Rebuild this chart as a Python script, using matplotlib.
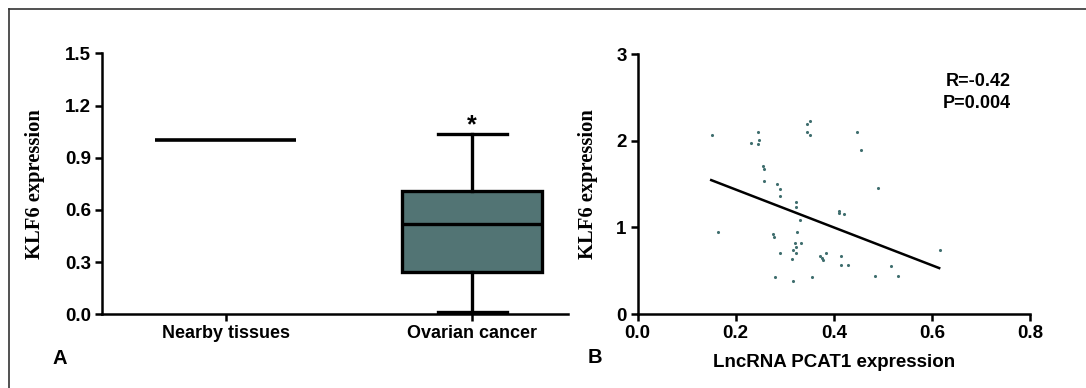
import numpy as np
import matplotlib
matplotlib.use('Agg')
import matplotlib.pyplot as plt
from matplotlib.lines import Line2D

# panel A: box plot values
groups = ['Nearby tissues', 'Ovarian cancer']
nearby_level = 1.0
ovarian_stats = dict(whislo=0.015, q1=0.241, med=0.517, q3=0.709, whishi=1.038)
star_y = 1.088

# panel B: scatter + regression
pcat_x = [0.151, 0.246, 0.248, 0.232, 0.246, 0.345, 0.352, 0.345, 0.352, 0.448,
          0.455, 0.256, 0.258, 0.257, 0.284, 0.290, 0.290, 0.490, 0.322, 0.322,
          0.410, 0.410, 0.420, 0.331, 0.164, 0.324, 0.276, 0.278, 0.321, 0.333,
          0.322, 0.317, 0.322, 0.290, 0.314, 0.371, 0.375, 0.378, 0.385, 0.415,
          0.415, 0.430, 0.280, 0.316, 0.355, 0.485, 0.517, 0.532, 0.616]
klf6_y = [2.066, 2.104, 2.005, 1.974, 1.959, 2.192, 2.227, 2.097, 2.062, 2.100,
          1.893, 1.708, 1.674, 1.536, 1.505, 1.440, 1.363, 1.459, 1.294, 1.240,
          1.190, 1.163, 1.155, 1.086, 0.952, 0.952, 0.922, 0.891, 0.825, 0.825,
          0.772, 0.737, 0.703, 0.706, 0.634, 0.672, 0.645, 0.622, 0.706, 0.668,
          0.571, 0.571, 0.426, 0.380, 0.426, 0.433, 0.556, 0.433, 0.733]
fit_x = [0.15, 0.615]
fit_y = [1.545, 0.53]
stat_text = 'R=-0.42\nP=0.004'

sans = 'Liberation Sans'
serif = 'Liberation Serif'
lw = 1.8

fig = plt.figure(figsize=(10.86, 3.88), dpi=100)

# outer frame (top and left edges only visible)
fig.add_artist(Line2D([0.0083, 1.0], [0.977, 0.977], transform=fig.transFigure, color='#333333', lw=1.2))
fig.add_artist(Line2D([0.0083, 0.0083], [0.0, 0.977], transform=fig.transFigure, color='#333333', lw=1.2))


def style_axes(ax):
    for s in ['top', 'right']:
        ax.spines[s].set_visible(False)
    for s in ['left', 'bottom']:
        ax.spines[s].set_linewidth(lw)
    ax.tick_params(direction='out', length=5, width=lw, pad=3)


def bold_ticks(labels, size):
    for lab in labels:
        lab.set_fontfamily(sans)
        lab.set_fontweight('bold')
        lab.set_fontsize(size)


# ---- A ----
ax1 = fig.add_axes([0.0942, 0.19, 0.4291, 0.6726])
style_axes(ax1)
ax1.plot([-0.285, 0.285], [nearby_level, nearby_level], color='black', lw=2.6, solid_capstyle='butt')
ovarian_stats['fliers'] = []
ax1.bxp([ovarian_stats], positions=[1], widths=0.57, patch_artist=True,
        boxprops=dict(facecolor='#527474', edgecolor='black', linewidth=2.4),
        medianprops=dict(color='black', linewidth=2.4),
        whiskerprops=dict(color='black', linewidth=2.4),
        capprops=dict(color='black', linewidth=2.4), capwidths=0.28)
ax1.text(1, star_y, '*', ha='center', va='center', fontsize=18, fontweight='bold', family=sans)
ax1.set_xlim(-0.5, 1.39)
ax1.set_ylim(0, 1.5)
ax1.set_yticks([0.0, 0.3, 0.6, 0.9, 1.2, 1.5])
ax1.set_yticklabels(['%.1f' % v for v in [0.0, 0.3, 0.6, 0.9, 1.2, 1.5]])
ax1.set_xticks([0, 1])
ax1.set_xticklabels(groups)
bold_ticks(ax1.get_yticklabels(), 13.5)
bold_ticks(ax1.get_xticklabels(), 13)
ax1.set_ylabel('KLF6 expression', family=serif, fontweight='bold', fontsize=14.8)
ax1.yaxis.set_label_coords(-0.123, 0.5)

# ---- B ----
ax2 = fig.add_axes([0.5872, 0.1907, 0.3611, 0.6701])
style_axes(ax2)
ax2.scatter(pcat_x, klf6_y, s=5, color='#3f6e6e', linewidths=0)
ax2.plot(fit_x, fit_y, color='black', lw=1.8)
ax2.text(0.762, 2.56, stat_text, ha='right', va='center', fontsize=13,
         fontweight='bold', family=sans, linespacing=1.4)
ax2.set_xlim(0, 0.8)
ax2.set_ylim(0, 3)
ax2.set_xticks([0.0, 0.2, 0.4, 0.6, 0.8])
ax2.set_xticklabels(['%.1f' % v for v in [0.0, 0.2, 0.4, 0.6, 0.8]])
ax2.set_yticks([0, 1, 2, 3])
bold_ticks(ax2.get_xticklabels(), 13.5)
bold_ticks(ax2.get_yticklabels(), 13.5)
ax2.set_ylabel('KLF6 expression', family=serif, fontweight='bold', fontsize=14.8)
ax2.yaxis.set_label_coords(-0.1005, 0.5)
ax2.set_xlabel('LncRNA PCAT1 expression', family=sans, fontweight='bold', fontsize=13.5, va='center')
ax2.xaxis.set_label_coords(0.5, -0.187)

fig.text(0.055, 0.077, 'A', family=sans, fontweight='bold', fontsize=14.5, ha='center', va='center')
fig.text(0.548, 0.079, 'B', family=sans, fontweight='bold', fontsize=14.5, ha='center', va='center')

fig.savefig('out.png', dpi=100)
